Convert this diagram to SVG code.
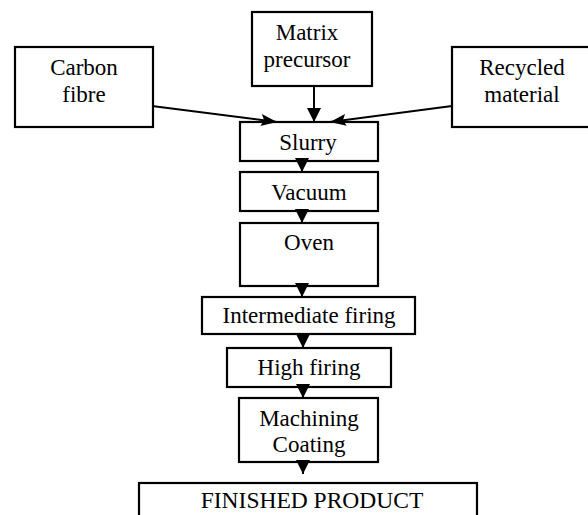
<svg xmlns="http://www.w3.org/2000/svg" width="588" height="515" viewBox="0 0 588 515">
<style>
.box{fill:#fff;stroke:#000;stroke-width:2.2}
.t{font-family:"Liberation Serif","Times New Roman",serif;font-size:23px;fill:#000;text-anchor:middle}
.c{stroke:#000;stroke-width:2;fill:none}
</style>
<defs>
<marker id="ah" markerUnits="userSpaceOnUse" markerWidth="14" markerHeight="14" viewBox="0 0 12 12" refX="12" refY="6" orient="auto">
<path d="M0,0 L12,6 L0,12 Z" fill="#000"/>
</marker>
<marker id="as" markerUnits="userSpaceOnUse" markerWidth="16" markerHeight="12" viewBox="0 0 16 12" refX="16" refY="6" orient="auto">
<path d="M0,0 L16,6 L0,12 L3,6 Z" fill="#000"/>
</marker>
</defs>
<rect width="588" height="515" fill="#fff"/>
<g id="carbon"><rect class="box" x="15" y="47" width="138" height="80"/><text class="t" x="84" y="75">Carbon</text><text class="t" x="84" y="102">fibre</text></g>
<g id="matrix"><rect class="box" x="252" y="12" width="120" height="74"/><text class="t" x="307" y="40">Matrix</text><text class="t" x="307" y="67">precursor</text></g>
<g id="recycled"><rect class="box" x="452" y="47" width="145" height="80"/><text class="t" x="522" y="75">Recycled</text><text class="t" x="522" y="102">material</text></g>
<g id="slurry"><rect class="box" x="240" y="122" width="138" height="39"/><text class="t" x="308" y="150">Slurry</text></g>
<g id="vacuum"><rect class="box" x="240" y="172" width="138" height="39"/><text class="t" x="309" y="200">Vacuum</text></g>
<g id="oven"><rect class="box" x="240" y="223" width="138" height="63"/><text class="t" x="309" y="250">Oven</text></g>
<g id="intermediate"><rect class="box" x="202" y="297" width="213" height="37"/><text class="t" x="309" y="323">Intermediate firing</text></g>
<g id="high"><rect class="box" x="227" y="348" width="164" height="39"/><text class="t" x="309" y="375">High firing</text></g>
<g id="machining"><rect class="box" x="239" y="398" width="139" height="64"/><text class="t" x="309" y="426">Machining</text><text class="t" x="309" y="452">Coating</text></g>
<g id="finished"><rect class="box" x="139" y="483" width="338" height="40"/><text class="t" x="312" y="508" style="font-size:23.5px">FINISHED PRODUCT</text></g>
<g id="connectors">
<path class="c" d="M152,106 L277,122" marker-end="url(#as)"/>
<path class="c" d="M452,106 L330,122" marker-end="url(#as)"/>
<path class="c" d="M314,86 L314,122" marker-end="url(#ah)"/>
<path class="c" d="M302,161 L302,172" marker-end="url(#ah)"/>
<path class="c" d="M302,211 L302,223" marker-end="url(#ah)"/>
<path class="c" d="M302,286 L302,297" marker-end="url(#ah)"/>
<path class="c" d="M303,334 L303,348" marker-end="url(#ah)"/>
<path class="c" d="M303,387 L303,398" marker-end="url(#ah)"/>
<path class="c" d="M303,462 L303,474" marker-end="url(#ah)"/>
</g>
</svg>
